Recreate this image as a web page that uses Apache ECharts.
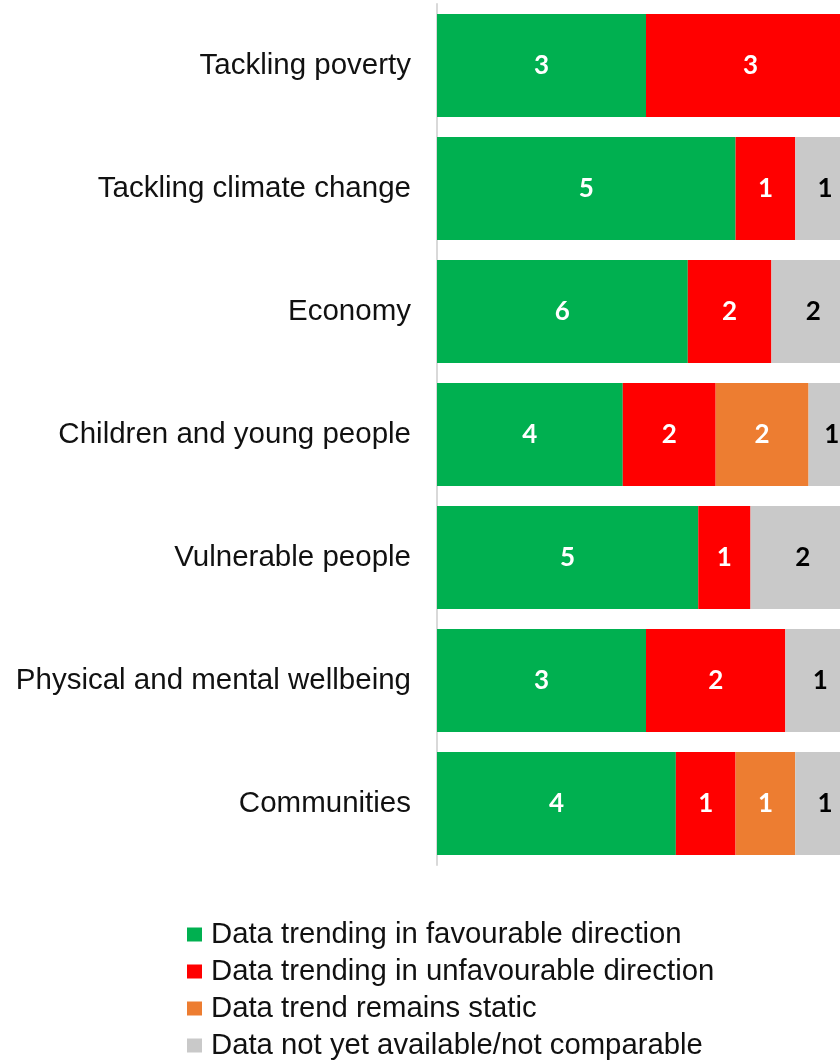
<!DOCTYPE html>
<html>
<head>
<meta charset="utf-8">
<script src="https://cdn.jsdelivr.net/npm/echarts@6/dist/echarts.min.js"></script>
<style>html,body{margin:0;padding:0;background:#fff;overflow:hidden;width:840px;height:1061px}#c{width:855px;height:1061px}</style>
</head>
<body>
<div id="c"></div>
<script>
const categories = ['Tackling poverty','Tackling climate change','Economy','Children and young people','Vulnerable people','Physical and mental wellbeing','Communities'];
const favourable   = [3,5,6,4,5,3,4];
const unfavourable = [3,1,2,2,1,2,1];
const staticTrend  = [0,0,0,2,0,0,1];
const notAvailable = [0,1,2,1,2,1,1];
const seriesNames = ['Data trending in favourable direction','Data trending in unfavourable direction','Data trend remains static','Data not yet available/not comparable'];

const raw = [favourable, unfavourable, staticTrend, notAvailable];
const totals = categories.map((_, i) => raw.reduce((s, a) => s + a[i], 0));
const colors = ['#00B050','#FF0000','#ED7D31','#C9C9C9'];
const labelColors = ['#fff','#fff','#fff','#000'];

const chart = echarts.init(document.getElementById('c'), null, {renderer:'canvas'});
chart.setOption({
  animation:false,
  grid:{left:437, right:0, top:4, bottom:196, containLabel:false},
  xAxis:{type:'value', min:0, max:100, show:false},
  yAxis:{type:'category', data:categories, inverse:true,
    axisLine:{show:true, lineStyle:{color:'#d9d9d9', width:2}},
    axisTick:{show:false},
    axisLabel:{fontFamily:'Liberation Sans', fontSize:29.5, color:'#111', margin:26}},
  legend:{orient:'vertical', left:182, top:915, height:300, itemWidth:15, itemHeight:14, itemGap:8,
    icon:'rect', data:seriesNames,
    textStyle:{fontFamily:'Liberation Sans', fontSize:29.3, color:'#111', padding:[0,0,0,4]}},
  series: raw.map((arr, k) => ({
    name: seriesNames[k], type:'bar', stack:'all', barWidth:103,
    itemStyle:{color:colors[k]},
    data: arr.map((v, i) => v / totals[i] * 100),
    label:{show:true, position:'inside', fontFamily:'Lato', fontWeight:'bold', fontSize:26, color:labelColors[k],
      formatter: p => arr[p.dataIndex] ? String(arr[p.dataIndex]) : ''}
  }))
});
</script>
</body>
</html>
